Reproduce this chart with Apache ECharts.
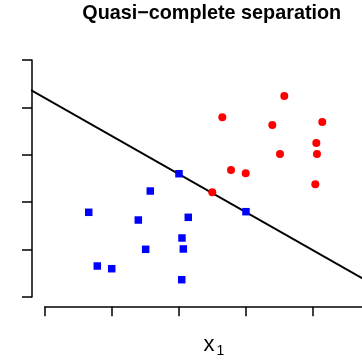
<!DOCTYPE html>
<html>
<head>
<meta charset="utf-8">
<script src="https://cdn.jsdelivr.net/npm/echarts@6/dist/echarts.min.js"></script>
<style>html,body{margin:0;padding:0;background:#fff}#c{width:362px;height:362px}</style>
</head>
<body>
<div id="c"></div>
<script>
// Data (arbitrary units; ticks carry no labels)
const redX  = [3.576, 2.651, 3.397, 4.143, 4.054, 3.512, 4.064, 2.781, 3.000, 4.039, 2.501];
const redY  = [4.241, 3.791, 3.629, 3.692, 3.249, 3.017, 3.017, 2.679, 2.610, 2.378, 2.209];
const blueX = [2.004, 1.576, 0.657, 1.397, 2.143, 2.049, 1.507, 2.069, 0.785, 1.000, 2.045, 3.004];
const blueY = [2.601, 2.236, 1.787, 1.624, 1.681, 1.245, 1.006, 1.013, 0.654, 0.597, 0.365, 1.800];
const lineIntercept = 4.201;
const lineSlope = -0.803;
const xTicks = [0, 1, 2, 3, 4];
const yTicks = [0, 1, 2, 3, 4, 5];
const titleText = 'Quasi\u2212complete separation';
const xLabel = 'x';
const xLabelSub = '1';

// layout
const X0PX = 44.7, XUNIT = 67;     // px of x=0, px per x unit
const Y0PX = 297, YUNIT = 47.4;    // px of y=0, px per y unit
const W = 362, H = 362;
const mainLeft = 32, mainRight = 0, mainTop = 40, mainBottom = 55.3;
const xMin = (mainLeft - X0PX) / XUNIT;
const xMax = (W - mainRight - X0PX) / XUNIT;
const yMin = (Y0PX - (H - mainBottom)) / YUNIT;
const yMax = (Y0PX - mainTop) / YUNIT;
const yTop = yTicks[yTicks.length - 1];

const redData = redX.map((x, i) => [x, redY[i]]);
const blueData = blueX.map((x, i) => [x, blueY[i]]);
const lineData = [xMin - 1, xMax + 1].map(x => [x, lineIntercept + lineSlope * x]);

const axisStyle = {color: '#000', width: 1.5};
const chart = echarts.init(document.getElementById('c'), null, {renderer: 'canvas'});
chart.setOption({
  animation: false,
  backgroundColor: '#fff',
  grid: [
    {left: mainLeft, right: mainRight, top: mainTop, bottom: mainBottom},
    {left: mainLeft, right: mainRight, top: Y0PX - YUNIT * yTop, bottom: H - Y0PX},
    {left: X0PX, right: mainRight, top: mainTop, bottom: mainBottom}
  ],
  xAxis: [
    {gridIndex: 0, type: 'value', min: xMin, max: xMax, show: false},
    {gridIndex: 1, type: 'value', min: 0, max: 1, show: false},
    {gridIndex: 2, type: 'value', min: 0, max: xMax,
     position: 'bottom',
     axisLine: {show: true, onZero: false, lineStyle: axisStyle},
     axisTick: {show: true, inside: false, length: 9.5, lineStyle: axisStyle, customValues: xTicks},
     axisLabel: {show: false}, splitLine: {show: false}}
  ],
  yAxis: [
    {gridIndex: 0, type: 'value', min: yMin, max: yMax, show: false},
    {gridIndex: 1, type: 'value', min: yTicks[0], max: yTop,
     position: 'left',
     axisLine: {show: true, onZero: false, lineStyle: axisStyle},
     axisTick: {show: true, inside: false, length: 10, lineStyle: axisStyle, customValues: yTicks},
     axisLabel: {show: false}, splitLine: {show: false}},
    {gridIndex: 2, type: 'value', min: 0, max: 1, show: false}
  ],
  series: [
    {type: 'line', xAxisIndex: 0, yAxisIndex: 0, data: lineData, showSymbol: false, symbol: 'none',
     clip: true, lineStyle: {color: '#000', width: 2}, z: 2},
    {type: 'scatter', xAxisIndex: 0, yAxisIndex: 0, data: redData, symbol: 'circle', symbolSize: 8,
     itemStyle: {color: '#ff0000', opacity: 1}, z: 3},
    {type: 'scatter', xAxisIndex: 0, yAxisIndex: 0, data: blueData, symbol: 'rect', symbolSize: 7.5,
     itemStyle: {color: '#0000ff', opacity: 1}, z: 3}
  ],
  graphic: [
    {type: 'text', x: 211.7, y: 4, style: {text: titleText, fill: '#000',
      font: 'bold 19.8px "Liberation Sans", Arial, sans-serif', align: 'center', verticalAlign: 'top'}},
    {type: 'text', x: 209, y: 334, style: {text: xLabel, fill: '#000',
      font: '22px "Liberation Sans", Arial, sans-serif', align: 'center', verticalAlign: 'top'}},
    {type: 'text', x: 216.5, y: 344.5, style: {text: xLabelSub, fill: '#000',
      font: '14px "Liberation Sans", Arial, sans-serif', align: 'left', verticalAlign: 'top'}}
  ]
});
</script>
</body>
</html>
